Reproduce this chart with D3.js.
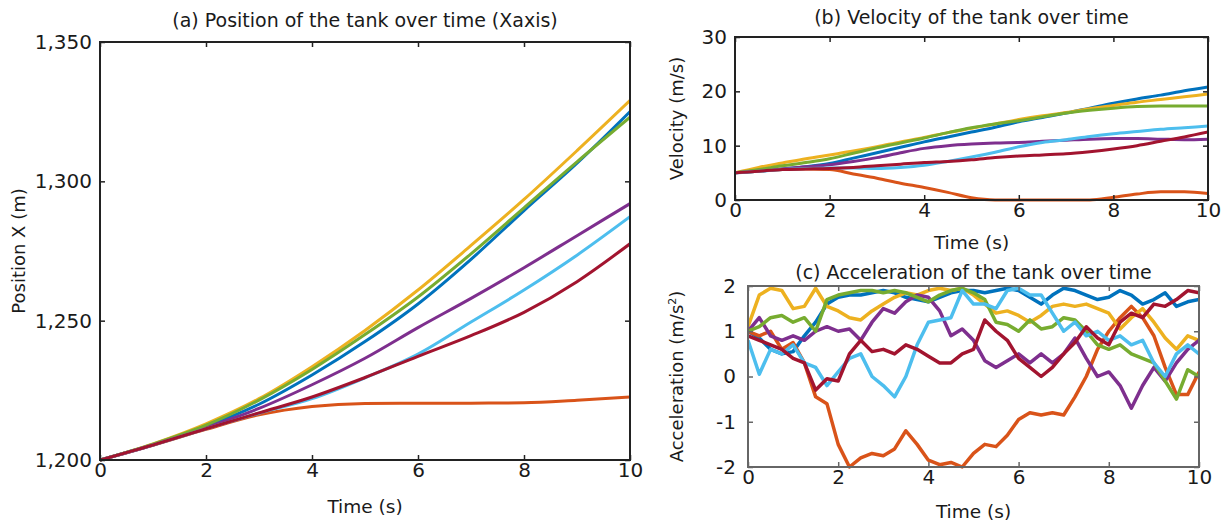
<!DOCTYPE html>
<html>
<head>
<meta charset="utf-8">
<script src="https://cdn.jsdelivr.net/npm/d3@7"></script>
<style>
  body { margin: 0; background: #fff; }
  svg text { font-family: "DejaVu Sans", sans-serif; fill: #1a1a1a; }
</style>
</head>
<body>
<svg id="chart" width="1229" height="522"></svg>
<script>
// series order follows MATLAB default colour order
const seriesColors = ["#0072BD", "#D95319", "#EDB120", "#7E2F8E", "#77AC30", "#4DBEEE", "#A2142F"];

// (a) position, sampled every second
const tPos = [0, 1, 2, 3, 4, 5, 6, 7, 8, 9, 10];
const posBlue   = [1200, 1205.5, 1212, 1220, 1230.5, 1242.5, 1256, 1272, 1289.5, 1306.5, 1325];
const posOrange = [1200, 1205.3, 1211, 1216.2, 1219.2, 1220.3, 1220.4, 1220.4, 1220.5, 1221.4, 1222.6];
const posYellow = [1200, 1205.8, 1213, 1222, 1233.5, 1246.5, 1261, 1277, 1293.5, 1311, 1329];
const posPurple = [1200, 1205.4, 1211.6, 1218.5, 1227, 1236.5, 1247.5, 1258, 1269, 1280.5, 1292];
const posGreen  = [1200, 1205.7, 1212.5, 1221.5, 1232.5, 1245, 1258.5, 1274, 1290.5, 1307, 1323];
const posLight  = [1200, 1205.4, 1211.2, 1216.8, 1222, 1229.5, 1238, 1249.5, 1261, 1273.5, 1287.3];
const posRed    = [1200, 1205.4, 1211.2, 1216.9, 1222.6, 1229.6, 1237.2, 1244.6, 1253, 1264, 1277.6];

// (b) velocity, sampled every half second
const tVel = [0, 0.5, 1, 1.5, 2, 2.5, 3, 3.5, 4, 4.5, 5, 5.5, 6, 6.5, 7, 7.5, 8, 8.5, 9, 9.5, 10];
const velBlue   = [5, 5.3, 5.7, 6.1, 6.7, 7.7, 8.7, 9.7, 10.7, 11.6, 12.5, 13.4, 14.4, 15.2, 16, 16.9, 17.8, 18.6, 19.3, 20.1, 20.8];
const velOrange = [5, 5.3, 5.6, 5.7, 5.6, 4.8, 4.0, 3.1, 2.3, 1.4, 0.4, 0, 0, 0, 0, 0, 0.5, 1.1, 1.5, 1.5, 1.2];
const velYellow = [5, 6.0, 6.8, 7.6, 8.3, 9.0, 9.8, 10.7, 11.5, 12.4, 13.2, 14.0, 14.8, 15.5, 16.1, 16.8, 17.4, 18.0, 18.5, 19.0, 19.5];
const velPurple = [5, 5.4, 5.7, 6.1, 6.5, 7.1, 7.8, 8.7, 9.5, 10.0, 10.3, 10.5, 10.6, 10.8, 11.0, 11.2, 11.3, 11.3, 11.2, 11.1, 11.2];
const velGreen  = [5, 5.6, 6.3, 6.9, 7.6, 8.6, 9.6, 10.5, 11.4, 12.4, 13.3, 14.0, 14.6, 15.3, 16.0, 16.5, 16.9, 17.2, 17.3, 17.3, 17.3];
const velLight  = [5, 5.3, 5.6, 5.8, 5.9, 5.9, 5.8, 6.0, 6.4, 7.1, 7.9, 8.8, 9.8, 10.6, 11.1, 11.7, 12.2, 12.6, 13.0, 13.3, 13.6];
const velRed    = [5, 5.3, 5.6, 5.7, 5.8, 6.0, 6.3, 6.6, 6.9, 7.1, 7.4, 7.8, 8.1, 8.3, 8.5, 8.9, 9.4, 10.0, 10.8, 11.6, 12.5];

// (c) acceleration, sampled every quarter second
const tAcc = [0, 0.25, 0.5, 0.75, 1, 1.25, 1.5, 1.75, 2, 2.25, 2.5, 2.75, 3, 3.25, 3.5, 3.75, 4, 4.25, 4.5, 4.75,
              5, 5.25, 5.5, 5.75, 6, 6.25, 6.5, 6.75, 7, 7.25, 7.5, 7.75, 8, 8.25, 8.5, 8.75, 9, 9.25, 9.5, 9.75, 10];
const accBlue   = [1.0, 0.85, 0.6, 0.5, 0.55, 0.9, 1.2, 1.6, 1.75, 1.8, 1.8, 1.85, 1.9, 1.85, 1.75, 1.7, 1.65, 1.75, 1.85, 1.9,
                   1.9, 1.85, 1.9, 1.95, 1.9, 1.75, 1.6, 1.8, 1.95, 1.9, 1.8, 1.7, 1.75, 1.9, 1.8, 1.6, 1.7, 1.85, 1.55, 1.65, 1.7];
const accOrange = [1.0, 0.9, 1.0, 0.6, 0.75, 0.3, -0.45, -0.6, -1.5, -2.0, -1.8, -1.7, -1.75, -1.6, -1.2, -1.5, -1.85, -1.95, -1.9, -2.0,
                   -1.7, -1.5, -1.55, -1.3, -0.95, -0.8, -0.85, -0.8, -0.85, -0.45, 0.0, 0.6, 1.0, 1.3, 1.55, 1.3, 0.9, 0.2, -0.4, -0.4, 0.1];
const accYellow = [1.1, 1.8, 1.95, 1.9, 1.5, 1.55, 1.95, 1.55, 1.45, 1.3, 1.25, 1.45, 1.6, 1.75, 1.85, 1.8, 1.9, 1.95, 1.9, 1.95,
                   1.8, 1.6, 1.4, 1.45, 1.35, 1.2, 1.35, 1.55, 1.6, 1.55, 1.6, 1.5, 1.4, 1.05, 1.3, 1.5, 1.2, 0.85, 0.6, 0.9, 0.8];
const accPurple = [1.0, 1.3, 0.9, 0.8, 0.9, 0.8, 1.0, 1.1, 1.0, 1.05, 0.8, 1.2, 1.5, 1.4, 1.65, 1.8, 1.75, 1.45, 0.9, 1.05,
                   0.8, 0.35, 0.2, 0.35, 0.5, 0.3, 0.5, 0.3, 0.5, 0.85, 0.4, 0.0, 0.1, -0.2, -0.7, -0.2, 0.2, -0.1, 0.3, 0.6, 0.8];
const accGreen  = [1.0, 1.1, 1.3, 1.35, 1.2, 1.3, 1.0, 1.7, 1.8, 1.85, 1.9, 1.9, 1.85, 1.9, 1.85, 1.75, 1.65, 1.8, 1.9, 1.95,
                   1.85, 1.7, 1.2, 1.15, 1.0, 1.25, 1.05, 1.1, 1.3, 1.25, 1.0, 0.7, 0.6, 0.7, 0.5, 0.4, 0.3, -0.1, -0.5, 0.15, 0.0];
const accLight  = [0.8, 0.05, 0.6, 0.5, 0.7, 0.3, 0.2, -0.2, 0.1, 0.4, 0.5, 0.0, -0.2, -0.45, 0.0, 0.7, 1.2, 1.25, 1.3, 1.9,
                   1.6, 1.6, 1.5, 1.9, 1.95, 1.8, 1.8, 1.4, 1.0, 1.2, 0.9, 1.0, 0.8, 0.9, 0.7, 0.8, 0.3, 0.0, 0.5, 0.7, 0.5];
const accRed    = [0.9, 0.8, 0.7, 0.6, 0.4, 0.3, -0.3, -0.05, -0.1, 0.5, 0.8, 0.55, 0.6, 0.5, 0.7, 0.6, 0.45, 0.3, 0.3, 0.5,
                   0.6, 1.25, 1.0, 0.8, 0.4, 0.2, 0.0, 0.2, 0.5, 0.75, 1.1, 0.85, 0.7, 1.2, 1.4, 1.3, 1.6, 1.55, 1.7, 1.9, 1.85];

const xTicks = [0, 2, 4, 6, 8, 10];
const posTicks = [1200, 1250, 1300, 1350];
const velTicks = [0, 10, 20, 30];
const accTicks = [-2, -1, 0, 1, 2];

const svg = d3.select("#chart");

function drawPanel(box, opts) {
  const x = d3.scaleLinear().domain([0, 10]).range([box.left, box.right]);
  const y = d3.scaleLinear().domain(opts.yDomain).range([box.bottom, box.top]);
  const g = svg.append("g");
  const clipId = "clip-" + opts.id;
  g.append("clipPath").attr("id", clipId).append("rect")
    .attr("x", box.left).attr("y", box.top - 2)
    .attr("width", box.right - box.left).attr("height", box.bottom - box.top + 4);

  const line = d3.line().x(d => x(d[0])).y(d => y(d[1])).curve(opts.curve);
  const lines = g.append("g").attr("clip-path", `url(#${clipId})`);
  opts.series.forEach((vals, i) => {
    lines.append("path")
      .datum(opts.t.map((t, j) => [t, vals[j]]))
      .attr("fill", "none")
      .attr("stroke", seriesColors[i])
      .attr("stroke-width", opts.lineWidth)
      .attr("stroke-linejoin", "round")
      .attr("d", line);
  });

  // inward ticks on all four sides
  const tick = 5;
  const fmt = opts.yFormat || (d => d);
  const bottom = g.append("g").attr("transform", `translate(0,${box.bottom})`)
    .call(d3.axisBottom(x).tickValues(xTicks).tickSizeInner(-tick).tickSizeOuter(0).tickPadding(opts.xPad));
  const left = g.append("g").attr("transform", `translate(${box.left},0)`)
    .call(d3.axisLeft(y).tickValues(opts.yTicks).tickFormat(fmt).tickSizeInner(-tick).tickSizeOuter(0).tickPadding(opts.yPad));
  const top = g.append("g").attr("transform", `translate(0,${box.top})`)
    .call(d3.axisTop(x).tickValues(xTicks).tickFormat("").tickSizeInner(-tick).tickSizeOuter(0));
  const right = g.append("g").attr("transform", `translate(${box.right},0)`)
    .call(d3.axisRight(y).tickValues(opts.yTicks).tickFormat("").tickSizeInner(-tick).tickSizeOuter(0));
  [bottom, left, top, right].forEach(a => {
    a.select(".domain").remove();
    a.selectAll("line").attr("stroke", opts.frame).attr("stroke-width", 1.5);
    a.selectAll("text").attr("font-size", 20).attr("fill", "#1a1a1a")
      .style("font-family", "DejaVu Sans, sans-serif");
  });

  g.append("rect")
    .attr("x", box.left).attr("y", box.top)
    .attr("width", box.right - box.left).attr("height", box.bottom - box.top)
    .attr("fill", "none").attr("stroke", opts.frame).attr("stroke-width", 2);

  const cx = (box.left + box.right) / 2;
  g.append("text").attr("x", cx).attr("y", opts.titleY)
    .attr("text-anchor", "middle").attr("font-size", 19).text(opts.title);
  g.append("text").attr("x", cx).attr("y", opts.xLabelY)
    .attr("text-anchor", "middle").attr("font-size", 18.5).text("Time (s)");
  const yl = g.append("text")
    .attr("transform", `translate(${opts.yLabelX},${(box.top + box.bottom) / 2}) rotate(-90)`)
    .attr("text-anchor", "middle").attr("font-size", 18);
  opts.yLabel(yl);
}

drawPanel({ left: 100, right: 630, top: 42, bottom: 460 }, {
  id: "a", t: tPos, yDomain: [1200, 1350], yTicks: posTicks, yFormat: d3.format(","),
  series: [posBlue, posOrange, posYellow, posPurple, posGreen, posLight, posRed],
  curve: d3.curveMonotoneX, lineWidth: 3, frame: "#222", xPad: 3, yPad: 8,
  title: "(a) Position of the tank over time (Xaxis)", titleY: 27, xLabelY: 513, yLabelX: 25,
  yLabel: t => t.text("Position X (m)")
});

drawPanel({ left: 735, right: 1208, top: 37, bottom: 200 }, {
  id: "b", t: tVel, yDomain: [0, 30], yTicks: velTicks,
  series: [velBlue, velOrange, velYellow, velPurple, velGreen, velLight, velRed],
  curve: d3.curveMonotoneX, lineWidth: 3, frame: "#222", xPad: 3, yPad: 8,
  title: "(b) Velocity of the tank over time", titleY: 24, xLabelY: 249, yLabelX: 683,
  yLabel: t => t.text("Velocity (m/s)")
});

drawPanel({ left: 748, right: 1199, top: 286, bottom: 467 }, {
  id: "c", t: tAcc, yDomain: [-2, 2], yTicks: accTicks,
  series: [accBlue, accOrange, accYellow, accPurple, accGreen, accLight, accRed],
  curve: d3.curveLinear, lineWidth: 3.5, frame: "#666", xPad: 3, yPad: 12,
  title: "(c) Acceleration of the tank over time", titleY: 279, xLabelY: 518, yLabelX: 683,
  yLabel: t => {
    t.append("tspan").text("Acceleration (m/s");
    t.append("tspan").attr("font-size", 11).attr("dy", -7).text("2");
    t.append("tspan").attr("dy", 7).text(")");
  }
});
</script>
</body>
</html>
